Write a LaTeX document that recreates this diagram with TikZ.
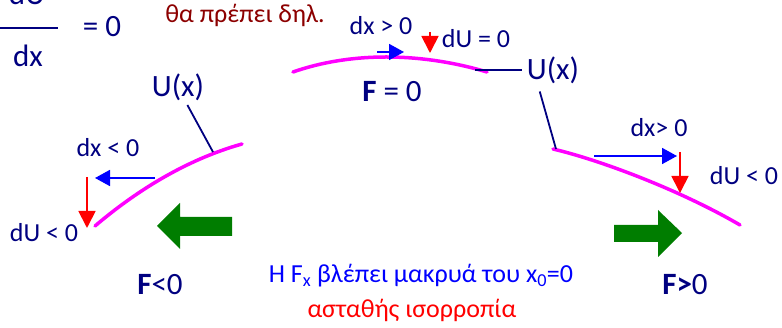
\documentclass[tikz,border=0pt]{standalone}
\usepackage{fontspec}
\setmainfont{Carlito}
\usetikzlibrary{arrows.meta}

\definecolor{navy}{RGB}{0,0,128}
\definecolor{darkred}{RGB}{140,0,0}
\definecolor{forcegreen}{RGB}{0,125,0}
\definecolor{curvemag}{RGB}{255,0,255}

\tikzset{
    lbl/.style={
        font=\fontsize{26}{29}\selectfont,
        text=navy,
        inner sep=0pt,
        anchor=base
    },
    big/.style={
        lbl,
        font=\fontsize{31}{34}\selectfont
    },
    note/.style={
        font=\fontsize{26}{29}\selectfont,
        inner sep=0pt,
        anchor=base
    },
    curve/.style={
        curvemag,
        line width=3.5pt,
        line cap=round
    },
    pointer/.style={
        navy,
        line width=1.8pt
    },
    dxarrow/.style={
        blue,
        line width=1.8pt,
        -{Triangle[length=15pt,width=16pt]}
    },
    duarrow/.style={
        red,
        line width=1.8pt,
        -{Triangle[length=17pt,width=17pt]}
    },
    force/.style={
        fill=forcegreen
    }
}

\begin{document}
\begin{tikzpicture}[x=1pt,y=-1pt]
    \useasboundingbox (0,0) rectangle (782,328);

    % Bedingung oben links
    \path
        node[big] at ( 27,  5) (du)   {dU}
        node[big] at ( 28, 67) (dx)   {dx}
        node[big] at (102, 37) (eq)   {= 0}
        node[note,text=darkred] at (245, 23) (prepei) {θα πρέπει δηλ.};
    \draw[navy,line width=2.5pt] (0,28) -- (58,28);

    % Kurvenstuecke
    \draw[curve] (95,226) .. controls (135,192) and (185,160) .. (242,144);
    \draw[curve] (293,72) .. controls (350,52) and (420,52) .. (487,72);
    \draw[curve] (553,149) .. controls (600,160) and (680,190) .. (740,225);

    \coordinate (lp) at (213,152);
    \coordinate (mp) at (475,70);
    \coordinate (rp) at (556,149);

    % Beschriftungen
    \path
        node[big] at (178, 97) (ux1) {U(x)}
        node[big] at (553, 80) (uxm) {U(x)}
        node[big] at (392,102) (f0)  {\textbf{F} = 0}
        node[big] at (160,295) (fl)  {\textbf{F}<0}
        node[big] at (685,295) (fr)  {\textbf{F>}0};

    \path
        node[lbl] at (381, 35) (dxt) {dx > 0}
        node[lbl] at (476, 48) (dut) {dU = 0}
        node[lbl] at (108,157) (dxl) {dx < 0}
        node[lbl] at ( 44,242) (dul) {dU < 0}
        node[lbl] at (659,137) (dxr) {dx> 0}
        node[lbl] at (744,185) (dur) {dU < 0};

    \path
        node[note,text=blue] at (421,283) (fx)
            {Η F\textsubscript{x} βλέπει μακρυά του x\textsubscript{0}=0}
        node[note,text=red]  at (412,318) (astath) {ασταθής ισορροπία};

    % Zeiger auf die Kurve
    \draw[pointer,shorten <=4pt] (ux1) -- (lp);
    \draw[pointer,shorten >=5pt] (mp) -- (mp -| uxm.west);
    \draw[pointer] ([xshift=13pt,yshift=-7pt]uxm.south west) -- (rp);

    % Verschiebungen dx und dU
    \draw[dxarrow] (377,52) -- (404,52);
    \draw[dxarrow] (155,178) -- (95,178);
    \draw[dxarrow] (594,156) -- (677,156);
    \draw[duarrow] (430,32) -- (430,53);
    \draw[duarrow] (87,177) -- (87,228);
    \draw[duarrow] (680,152) -- (680,193);

    % Kraftpfeile
    \fill[force] (157,226) -- (180,203) -- (180,217) -- (232,217)
        -- (232,236) -- (180,236) -- (180,249) -- cycle;
    \fill[force] (682,233) -- (658,210) -- (658,225) -- (614,225)
        -- (614,242) -- (658,242) -- (658,257) -- cycle;
\end{tikzpicture}
\end{document}
